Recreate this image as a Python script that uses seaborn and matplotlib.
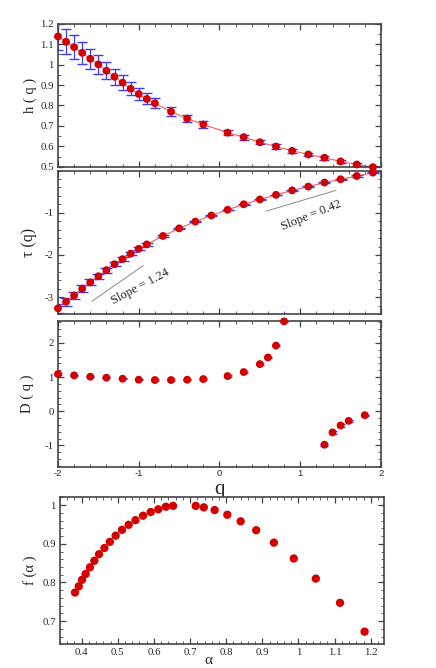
import numpy as np
import matplotlib
matplotlib.use("Agg")
import matplotlib.pyplot as plt
from matplotlib.ticker import MultipleLocator, FuncFormatter
import seaborn as sns

# valores
q_h = [-2.0, -1.9, -1.8, -1.7, -1.6, -1.5, -1.4, -1.3, -1.2, -1.1, -1.0, -0.9, -0.8,
       -0.6, -0.4, -0.2, 0.1, 0.3, 0.5, 0.7, 0.9, 1.1, 1.3, 1.5, 1.7, 1.9]
h_q = [1.138, 1.112, 1.086, 1.058, 1.029, 1.001, 0.970, 0.941, 0.912, 0.882, 0.856, 0.832, 0.811,
       0.770, 0.736, 0.707, 0.667, 0.645, 0.620, 0.599, 0.578, 0.560, 0.544, 0.526, 0.511, 0.498]
h_err = [0.065, 0.062, 0.059, 0.054, 0.050, 0.046, 0.042, 0.039, 0.035, 0.033, 0.028, 0.027, 0.025,
         0.021, 0.019, 0.017, 0.013, 0.012, 0.011, 0.010, 0.010, 0.009, 0.009, 0.008, 0.008, 0.008]

q_tau = [-2.0, -1.9, -1.8, -1.7, -1.6, -1.5, -1.4, -1.3, -1.2, -1.1, -1.0, -0.9,
         -0.7, -0.5, -0.3, -0.1, 0.1, 0.3, 0.5, 0.7, 0.9, 1.1, 1.3, 1.5, 1.7, 1.9]
tau_q = [-3.266, -3.109, -2.96, -2.80, -2.65, -2.505, -2.36, -2.22, -2.10, -1.97, -1.855, -1.75,
         -1.55, -1.37, -1.21, -1.065, -0.93, -0.80, -0.685, -0.576, -0.47, -0.38, -0.285, -0.207, -0.13, -0.05]
tau_err = [0.10, 0.09, 0.085, 0.08, 0.07, 0.065, 0.06, 0.05, 0.045, 0.04, 0.035, 0.03,
           0.02, 0.015, 0.01, 0.008, 0.006, 0.006, 0.006, 0.007, 0.008, 0.01, 0.012, 0.012, 0.014, 0.015]

q_D = [-2.0, -1.8, -1.6, -1.4, -1.2, -1.0, -0.8, -0.6, -0.4, -0.2, 0.1, 0.3, 0.5, 0.6, 0.7, 0.8,
       1.3, 1.4, 1.5, 1.6, 1.8]
D_q = [1.087, 1.049, 1.010, 0.981, 0.951, 0.922, 0.913, 0.913, 0.922, 0.942, 1.029, 1.146, 1.379,
       1.573, 1.922, 2.63, -0.981, -0.621, -0.417, -0.282, -0.117]
D_err = [0.02, 0.02, 0.02, 0.02, 0.02, 0.02, 0.02, 0.02, 0.02, 0.02, 0.02, 0.02, 0.02,
         0.02, 0.02, 0.02, 0.03, 0.04, 0.04, 0.03, 0.02]

alpha = [0.3815, 0.392, 0.401, 0.411, 0.423, 0.435, 0.448, 0.463, 0.478, 0.494, 0.5115, 0.530,
         0.549, 0.570, 0.591, 0.612, 0.633, 0.653, 0.7156, 0.738, 0.768, 0.803, 0.840, 0.883,
         0.932, 0.987, 1.048, 1.115, 1.183]
f_alpha = [0.774, 0.790, 0.807, 0.822, 0.839, 0.856, 0.873, 0.889, 0.905, 0.921, 0.936, 0.949,
           0.961, 0.9725, 0.982, 0.989, 0.9957, 0.998, 0.998, 0.994, 0.987, 0.975, 0.958, 0.935,
           0.903, 0.862, 0.810, 0.7474, 0.673]

# linhas de referencia (inclinacao)
slope1_q = [-1.58, -0.944]
slope1_tau = [-3.10, -2.25]
slope2_q = [0.572, 1.443]
slope2_tau = [-0.965, -0.47]

sns.set_style("ticks")
plt.rcParams['font.family'] = ['Liberation Serif', 'DejaVu Serif']
plt.rcParams['axes.unicode_minus'] = False

vermelho = '#d40000'
azul = '#3c3cff'
linha = '#f06060'
moldura = '#444444'

fig = plt.figure(figsize=(4.36, 6.68), dpi=100)
ax1 = fig.add_axes([0.1330, 0.7504, 0.7408, 0.2139])
ax2 = fig.add_axes([0.1330, 0.5299, 0.7408, 0.2148])
ax3 = fig.add_axes([0.1330, 0.3016, 0.7408, 0.2183])
ax4 = fig.add_axes([0.1376, 0.0359, 0.7438, 0.2196])

fmt = FuncFormatter(lambda v, p: '%g' % round(v, 3))


def estilo(ax):
    for s in ax.spines.values():
        s.set_color(moldura)
        s.set_linewidth(1.2)
    ax.tick_params(which='both', direction='in', top=True, right=True, color=moldura)
    ax.tick_params(which='major', length=4, width=0.9, labelsize=7.8, pad=3)
    ax.tick_params(which='minor', length=2, width=0.6)
    ax.yaxis.set_major_formatter(fmt)


# painel h(q)
ax1.errorbar(q_h, h_q, yerr=h_err, fmt='none', ecolor=azul, elinewidth=0.9, capsize=3.6, capthick=1.0, zorder=1)
sns.lineplot(x=q_h, y=h_q, ax=ax1, color=linha, lw=0.8, sort=False, estimator=None, zorder=2)
sns.scatterplot(x=q_h, y=h_q, ax=ax1, color=vermelho, s=32, edgecolor='none', zorder=3, clip_on=False)
ax1.set_xlim(-2, 2)
ax1.set_ylim(0.5, 1.2)
ax1.yaxis.set_major_locator(MultipleLocator(0.1))
ax1.yaxis.set_minor_locator(MultipleLocator(0.05))
ax1.set_ylabel('h ( q )', fontsize=10.5)
ax1.yaxis.set_label_coords(-0.066, 0.5)

# painel tau(q)
ax2.errorbar(q_tau, tau_q, yerr=tau_err, fmt='none', ecolor=azul, elinewidth=0.9, capsize=4.3, capthick=1.0, zorder=1)
sns.lineplot(x=q_tau, y=tau_q, ax=ax2, color=linha, lw=0.8, sort=False, estimator=None, zorder=2)
sns.scatterplot(x=q_tau, y=tau_q, ax=ax2, color=vermelho, s=32, edgecolor='none', zorder=3, clip_on=False)
ax2.plot(slope1_q, slope1_tau, color='#888888', lw=0.7)
ax2.plot(slope2_q, slope2_tau, color='#888888', lw=0.7)
ax2.text(-0.976, -2.745, 'Slope = 1.24', fontsize=9, rotation=28, ha='center', va='center')
ax2.text(1.142, -1.059, 'Slope = 0.42', fontsize=9, rotation=22, ha='center', va='center')
ax2.set_xlim(-2, 2)
ax2.set_ylim(-3.4, 0)
ax2.set_yticks([-3, -2, -1])
ax2.yaxis.set_minor_locator(MultipleLocator(0.2))
ax2.set_ylabel('τ (q)', fontsize=11.5)
ax2.yaxis.set_label_coords(-0.066, 0.5)

# painel D(q)
ax3.errorbar(q_D, D_q, yerr=D_err, fmt='none', ecolor=azul, elinewidth=0.9, capsize=3.2, capthick=1.0, zorder=1)
sns.scatterplot(x=q_D, y=D_q, ax=ax3, color=vermelho, s=32, edgecolor='none', zorder=3, clip_on=False)
ax3.set_xlim(-2, 2)
ax3.set_ylim(-1.62, 2.65)
ax3.set_yticks([-1, 0, 1, 2])
ax3.yaxis.set_minor_locator(MultipleLocator(0.2))
ax3.set_ylabel('D ( q )', fontsize=10.5)
ax3.yaxis.set_label_coords(-0.075, 0.5)
ax3.set_xlabel('q', fontsize=15)
ax3.xaxis.set_label_coords(0.5, -0.09)

for ax in (ax1, ax2, ax3):
    estilo(ax)
    ax.xaxis.set_major_locator(MultipleLocator(1))
    ax.xaxis.set_minor_locator(MultipleLocator(0.2))
ax1.tick_params(labelbottom=False)
ax2.tick_params(labelbottom=False)
ax3.xaxis.set_major_formatter(FuncFormatter(lambda v, p: '%g' % v))
ax3.tick_params(axis='x', labelsize=6.8, pad=2)
for lab in ax3.get_xticklabels():
    lab.set_family(['Liberation Sans', 'DejaVu Sans'])

# painel f(alpha)
sns.scatterplot(x=alpha, y=f_alpha, ax=ax4, color=vermelho, s=36, edgecolor='none', zorder=3)
ax4.set_xlim(0.34, 1.2375)
ax4.set_ylim(0.641, 1.02)
ax4.xaxis.set_major_locator(MultipleLocator(0.1))
ax4.xaxis.set_minor_locator(MultipleLocator(0.02))
ax4.yaxis.set_major_locator(MultipleLocator(0.1))
ax4.yaxis.set_minor_locator(MultipleLocator(0.02))
estilo(ax4)
ax4.xaxis.set_major_formatter(fmt)
ax4.set_ylabel('f (α )', fontsize=10.5)
ax4.yaxis.set_label_coords(-0.07, 0.5)
ax4.set_xlabel('α', fontsize=11)
ax4.xaxis.set_label_coords(0.459, -0.07)

fig.savefig('out.png', dpi=100)
